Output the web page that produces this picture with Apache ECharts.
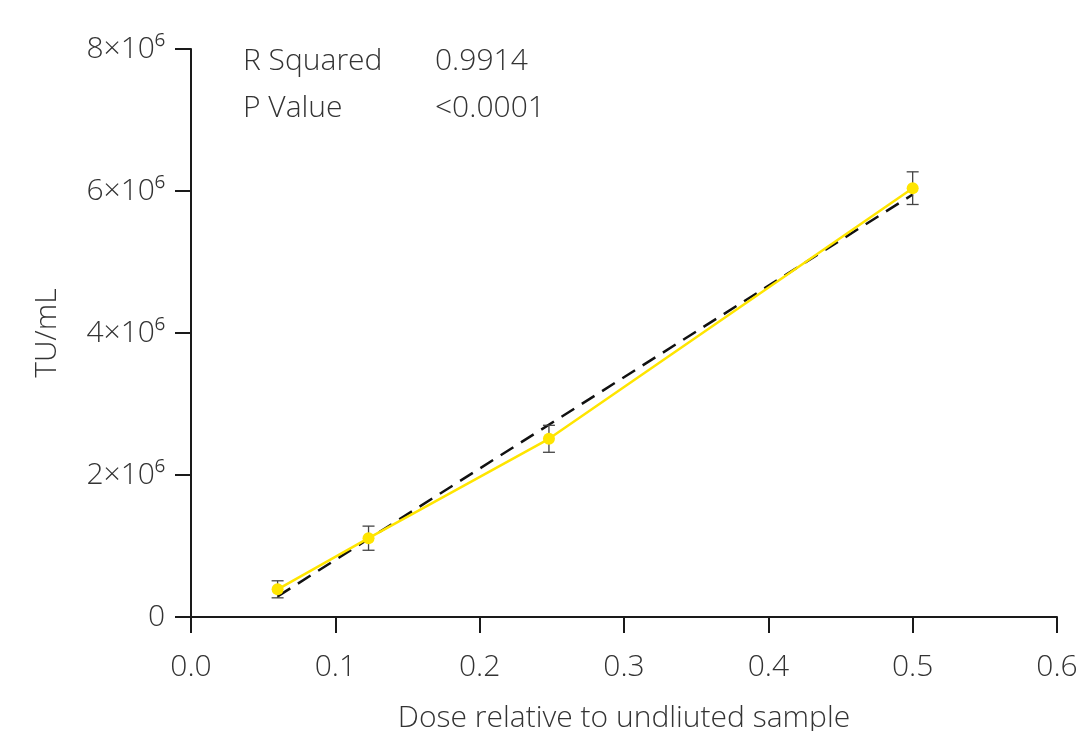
<!DOCTYPE html>
<html>
<head>
<meta charset="utf-8">
<script src="https://cdn.jsdelivr.net/npm/echarts@6/dist/echarts.min.js"></script>
<style>html,body{margin:0;padding:0;background:#fff}#c{width:1079px;height:731px}</style>
</head>
<body>
<div id="c"></div>
<script>
// Data
const doses = [0.06, 0.123, 0.248, 0.5];
const tuMean = [0.39e6, 1.11e6, 2.51e6, 6.04e6];
const tuErr = [0.12e6, 0.17e6, 0.19e6, 0.23e6];
const fitX = [0.06, 0.5];
const fitY = [0.29e6, 5.95e6];
const statLabels = ['R Squared', 'P Value'];
const statValues = ['0.9914', '<0.0001'];
const xTicks = [0, 0.1, 0.2, 0.3, 0.4, 0.5, 0.6];
const yTicks = [0, 2e6, 4e6, 6e6, 8e6];

const FONT = 'Open Sans';
const FW = 300;
const FS = 30;
const TXT = '#333';
const chart = echarts.init(document.getElementById('c'));

const meanData = doses.map((d, i) => [d, tuMean[i]]);
const errData = doses.map((d, i) => [d, tuMean[i] - tuErr[i], tuMean[i] + tuErr[i]]);
const fitData = fitX.map((x, i) => [x, fitY[i]]);
const statFont = FW + ' ' + FS + 'px "Open Sans"';

chart.setOption({
  animation: false,
  grid: { left: 191, right: 22, top: 49, bottom: 114, containLabel: false, outerBoundsMode: 'none' },
  xAxis: {
    type: 'value', min: 0, max: 0.6, interval: 0.1,
    name: 'Dose relative to undliuted sample', nameLocation: 'middle', nameGap: 86,
    nameTextStyle: { fontFamily: FONT, fontSize: FS, color: TXT, fontWeight: FW },
    axisLine: { show: true, lineStyle: { color: '#1a1a1a', width: 2 } },
    axisTick: { show: true, length: 16, lineStyle: { color: '#1a1a1a', width: 2 }, inside: false },
    axisLabel: { fontFamily: FONT, fontSize: FS, color: TXT, margin: 35, fontWeight: FW,
      formatter: v => v.toFixed(1) },
    splitLine: { show: false }
  },
  yAxis: {
    type: 'value', min: 0, max: 8e6, interval: 2e6,
    name: 'TU/mL', nameLocation: 'middle', nameGap: 129, nameRotate: 90,
    nameTextStyle: { fontFamily: FONT, fontSize: FS, color: TXT, fontWeight: FW },
    axisLine: { show: true, lineStyle: { color: '#1a1a1a', width: 2 } },
    axisTick: { show: true, length: 16, lineStyle: { color: '#1a1a1a', width: 2 }, inside: false },
    axisLabel: { fontFamily: FONT, fontSize: FS, color: TXT, margin: 26, fontWeight: FW,
      formatter: v => v === 0 ? '0' : (v / 1e6) + '×10⁶' },
    splitLine: { show: false }
  },
  graphic: [
    { type: 'text', left: 243, top: 46, style: { text: statLabels[0], font: statFont, fill: TXT } },
    { type: 'text', left: 435, top: 46, style: { text: statValues[0], font: statFont, fill: TXT } },
    { type: 'text', left: 243, top: 93, style: { text: statLabels[1], font: statFont, fill: TXT } },
    { type: 'text', left: 435, top: 93, style: { text: statValues[1], font: statFont, fill: TXT } }
  ],
  series: [
    {
      type: 'line', data: fitData, symbol: 'none', z: 2,
      lineStyle: { color: '#111', width: 2.5, type: [15, 9] }
    },
    {
      type: 'custom', z: 3,
      data: errData,
      renderItem: function (params, api) {
        const x = api.value(0);
        const lo = api.coord([x, api.value(1)]);
        const hi = api.coord([x, api.value(2)]);
        const w = 6;
        const st = { stroke: '#444', lineWidth: 1.3 };
        return {
          type: 'group',
          children: [
            { type: 'line', shape: { x1: lo[0], y1: lo[1], x2: hi[0], y2: hi[1] }, style: st },
            { type: 'line', shape: { x1: lo[0] - w, y1: lo[1], x2: lo[0] + w, y2: lo[1] }, style: st },
            { type: 'line', shape: { x1: hi[0] - w, y1: hi[1], x2: hi[0] + w, y2: hi[1] }, style: st }
          ]
        };
      }
    },
    {
      type: 'line', data: meanData, z: 4,
      symbol: 'circle', symbolSize: 12,
      lineStyle: { color: '#FFE500', width: 2.5 },
      itemStyle: { color: '#FFE500', borderWidth: 0 }
    }
  ]
});
</script>
</body>
</html>
